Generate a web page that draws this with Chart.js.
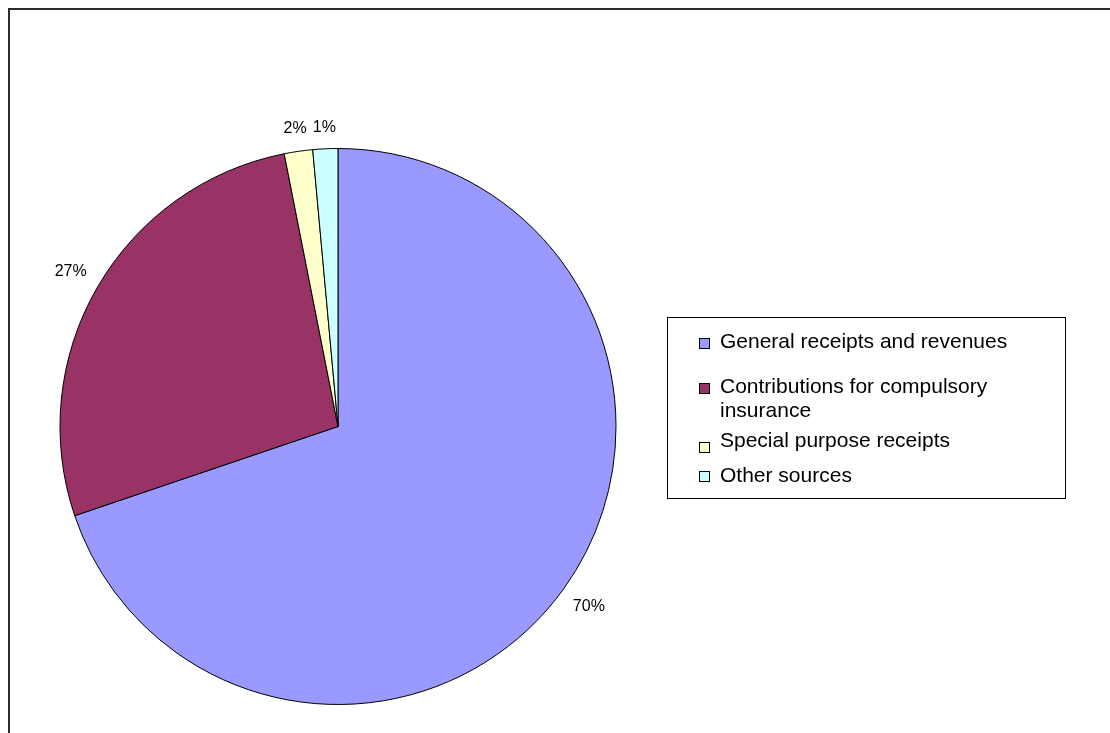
<!DOCTYPE html>
<html>
<head>
<meta charset="utf-8">
<script src="https://cdn.jsdelivr.net/npm/chart.js@4/dist/chart.umd.min.js"></script>
<style>
  html, body { margin: 0; padding: 0; background: #fff; }
  #wrap { width: 1110px; height: 733px; position: relative; }
</style>
</head>
<body>
<div id="wrap"><canvas id="c" width="1110" height="733"></canvas></div>
<script>
const categories = ["General receipts and revenues", "Contributions for compulsory insurance", "Special purpose receipts", "Other sources"];
const values = [69.8, 27.1, 1.65, 1.45];
const colors = ["#9999FF", "#993366", "#FFFFCC", "#CCFFFF"];

const FONT = '"Liberation Sans", Arial, sans-serif';

const framePlugin = {
  id: 'frame',
  beforeDraw(chart) {
    const ctx = chart.ctx;
    ctx.save();
    ctx.fillStyle = '#fff';
    ctx.fillRect(0, 0, chart.width, chart.height);
    ctx.strokeStyle = '#2b2b2b';
    ctx.lineWidth = 2;
    ctx.beginPath();
    ctx.moveTo(9, chart.height);
    ctx.lineTo(9, 9);
    ctx.lineTo(chart.width, 9);
    ctx.stroke();
    ctx.restore();
  }
};

const labelPlugin = {
  id: 'pctLabels',
  afterDatasetsDraw(chart) {
    const ctx = chart.ctx;
    const meta = chart.getDatasetMeta(0);
    const data = chart.data.datasets[0].data;
    const total = data.reduce((a, b) => a + b, 0);
    ctx.save();
    ctx.font = '16px ' + FONT;
    ctx.fillStyle = '#000';
    ctx.textAlign = 'center';
    ctx.textBaseline = 'middle';
    meta.data.forEach((arc, i) => {
      const mid = (arc.startAngle + arc.endAngle) / 2;
      const dx = Math.cos(mid), dy = Math.sin(mid);
      const txt = Math.round(data[i] / total * 100) + '%';
      const w = ctx.measureText(txt).width;
      const ext = Math.abs(dx) * w / 2 + Math.abs(dy) * 8;
      const r = arc.outerRadius + 13 + ext;
      ctx.fillText(txt, arc.x + dx * r, arc.y + dy * r);
    });
    ctx.restore();
  }
};

const legendPlugin = {
  id: 'boxLegend',
  afterDraw(chart) {
    const ctx = chart.ctx;
    const x0 = 667, y0 = 317, x1 = 1065, y1 = 498;
    ctx.save();
    ctx.strokeStyle = '#000';
    ctx.lineWidth = 1;
    ctx.strokeRect(x0 + 0.5, y0 + 0.5, x1 - x0, y1 - y0);
    ctx.font = '21px ' + FONT;
    ctx.textBaseline = 'alphabetic';
    ctx.textAlign = 'left';
    const baselines = [348, 393, 447, 482];
    const sqOffset = [0, 0, 5, -1];
    const textX = 720, sqX = 699, sq = 10, maxW = 320, lineH = 24;
    chart.data.labels.forEach((lab, i) => {
      // wrap
      const words = lab.split(' ');
      const lines = [];
      let cur = '';
      words.forEach(wd => {
        const t = cur ? cur + ' ' + wd : wd;
        if (ctx.measureText(t).width > maxW && cur) { lines.push(cur); cur = wd; }
        else cur = t;
      });
      if (cur) lines.push(cur);
      const b = baselines[i];
      ctx.fillStyle = chart.data.datasets[0].backgroundColor[i];
      const sy = b + sqOffset[i] - sq;
      ctx.fillRect(sqX, sy, sq, sq);
      ctx.strokeStyle = '#000';
      ctx.strokeRect(sqX + 0.5, sy + 0.5, sq, sq);
      ctx.fillStyle = '#000';
      lines.forEach((ln, k) => ctx.fillText(ln, textX, b + k * lineH));
    });
    ctx.restore();
  }
};

new Chart(document.getElementById('c'), {
  type: 'pie',
  data: {
    labels: categories,
    datasets: [{
      data: values,
      backgroundColor: colors,
      borderColor: '#000',
      borderWidth: 1
    }]
  },
  options: {
    responsive: false,
    animation: false,
    layout: { padding: { left: 59.5, top: 148, bottom: 28, right: 493.5 } },
    plugins: {
      legend: { display: false },
      tooltip: { enabled: false }
    }
  },
  plugins: [framePlugin, labelPlugin, legendPlugin]
});
</script>
</body>
</html>
